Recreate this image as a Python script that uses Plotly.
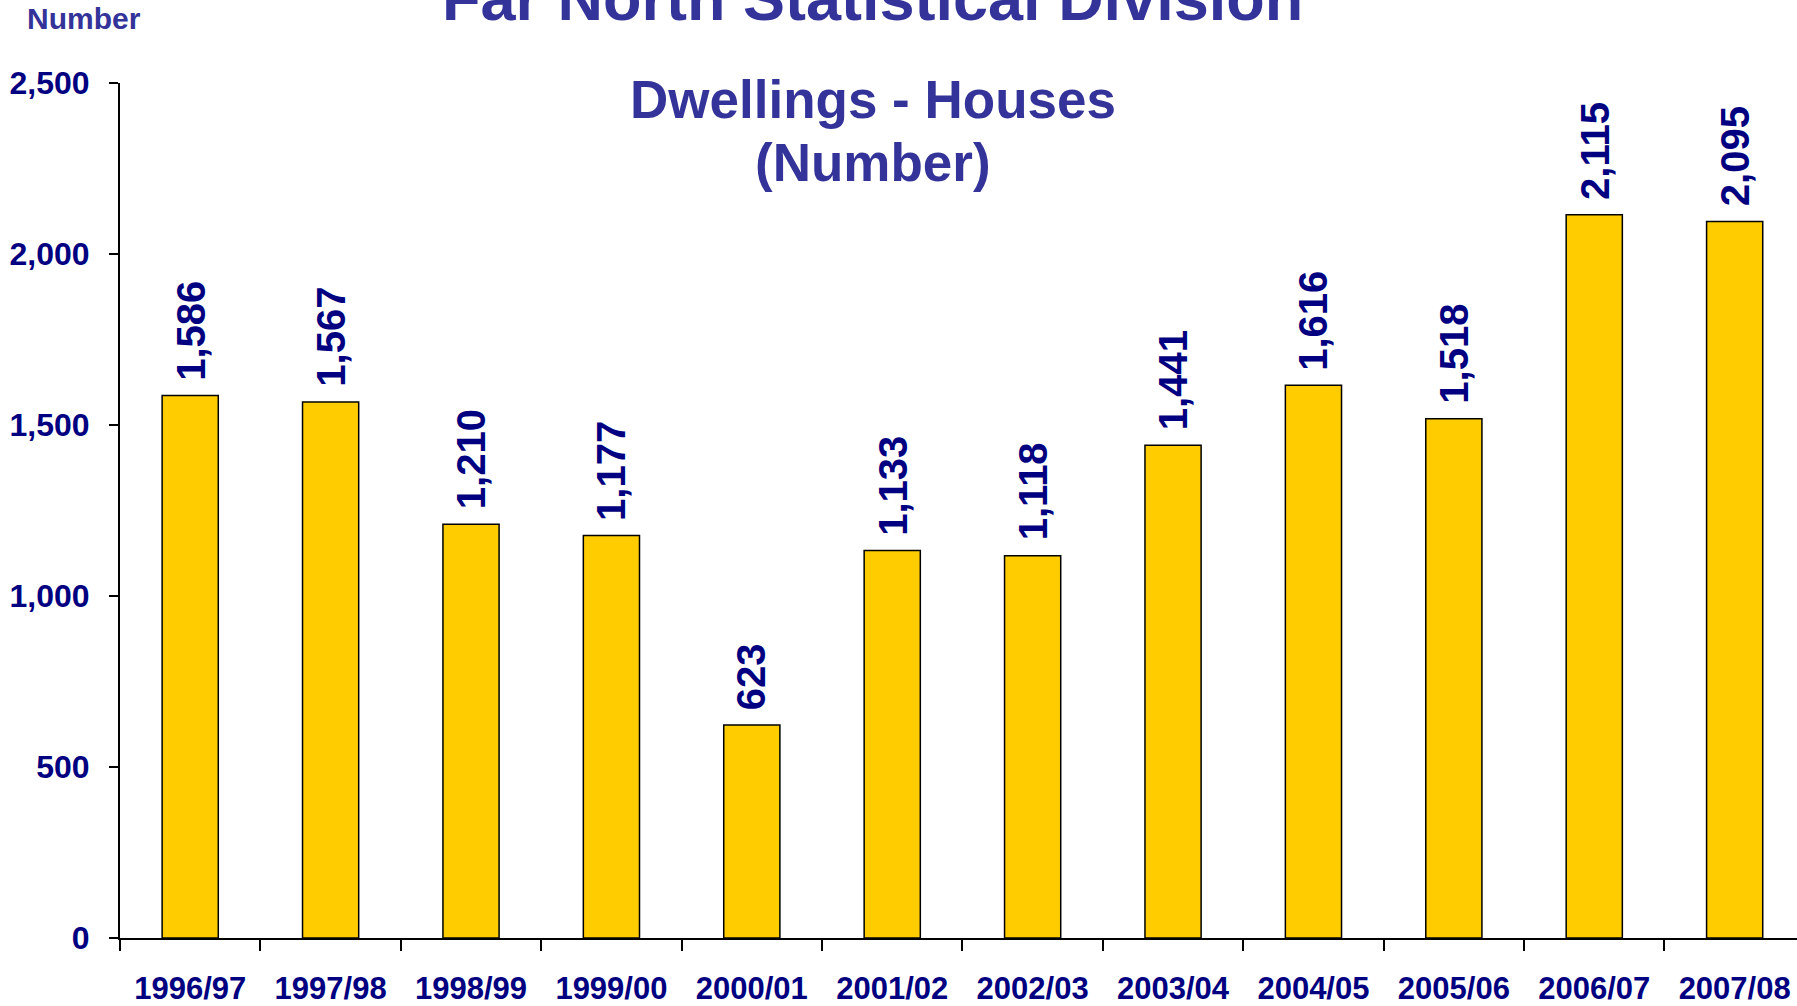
import plotly.graph_objects as go

categories = ["1996/97", "1997/98", "1998/99", "1999/00", "2000/01", "2001/02",
              "2002/03", "2003/04", "2004/05", "2005/06", "2006/07", "2007/08"]
houses = [1586, 1567, 1210, 1177, 623, 1133, 1118, 1441, 1616, 1518, 2115, 2095]
y_ticks = [0, 500, 1000, 1500, 2000, 2500]

FONT = "Liberation Sans, Arial, sans-serif"
NAVY = "#000080"
TITLE_BLUE = "#333399"

W, H = 1797, 1006
L, R, T, B = 120, 0, 83, 68

fig = go.Figure()
fig.add_trace(go.Bar(
    x=categories, y=houses,
    marker=dict(color="#FFCC00", line=dict(color="black", width=1.5)),
    hoverinfo="skip",
))

for c, v in zip(categories, houses):
    fig.add_annotation(
        x=c, y=v, xref="x", yref="y", text=f"<b>{v:,}</b>", textangle=-90,
        showarrow=False, xanchor="center", yanchor="bottom", yshift=13,
        font=dict(family=FONT, size=40, color=NAVY),
    )

pw = W - L - R
ph = H - T - B
def px_x(px):
    return (px - L) / pw
def px_y(py):
    return 1 - (py - T) / ph

fig.add_annotation(text="<b>Far North Statistical Division</b>", xref="paper", yref="paper",
                   x=px_x(872), y=px_y(-2), xanchor="center", yanchor="middle",
                   showarrow=False, font=dict(family=FONT, size=63, color=TITLE_BLUE))
fig.add_annotation(text="<b>Dwellings - Houses</b>", xref="paper", yref="paper",
                   x=px_x(873), y=px_y(99), xanchor="center", yanchor="middle",
                   showarrow=False, font=dict(family=FONT, size=53, color=TITLE_BLUE))
fig.add_annotation(text="<b>(Number)</b>", xref="paper", yref="paper",
                   x=px_x(873), y=px_y(162), xanchor="center", yanchor="middle",
                   showarrow=False, font=dict(family=FONT, size=53, color=TITLE_BLUE))
fig.add_annotation(text="<b>Number</b>", xref="paper", yref="paper",
                   x=px_x(25), y=px_y(19), xanchor="left", yanchor="middle",
                   showarrow=False, font=dict(family=FONT, size=30, color=TITLE_BLUE))

fig.update_layout(
    width=W, height=H,
    margin=dict(l=L, r=R, t=T, b=B, pad=0),
    paper_bgcolor="white", plot_bgcolor="white",
    showlegend=False, bargap=0.6,
    font=dict(family=FONT, color=NAVY),
)
fig.update_xaxes(
    type="category", range=[-0.5, 11.444],
    showline=True, linecolor="black", linewidth=2,
    ticks="outside", tickson="boundaries", ticklen=11, tickwidth=1.5, tickcolor="black",
    showgrid=False, zeroline=False,
    tickfont=dict(family=FONT, size=31, color=NAVY, weight="bold"),
    ticklabelstandoff=22,
)
fig.update_yaxes(
    range=[0, 2500], tickvals=y_ticks, tickformat=",",
    showline=True, linecolor="black", linewidth=2,
    ticks="outside", ticklen=9, tickwidth=2, tickcolor="black",
    showgrid=False, zeroline=False,
    tickfont=dict(family=FONT, size=32, color=NAVY, weight="bold"),
    ticklabelstandoff=13,
)

fig.write_html("out.html", config={"displayModeBar": False},
               post_script="document.body.style.margin='0';document.body.style.overflow='hidden';")
